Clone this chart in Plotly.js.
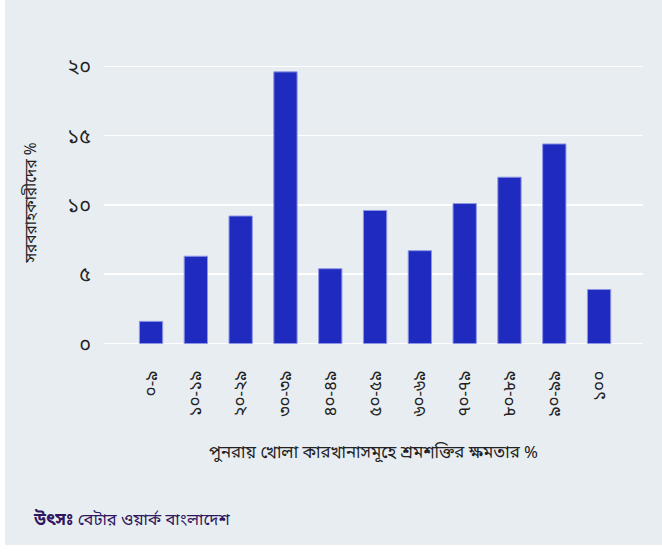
<!DOCTYPE html>
<html>
<head>
<meta charset="utf-8">
<script src="https://cdn.plot.ly/plotly-3.0.1.min.js"></script>
<style>
html,body{margin:0;padding:0;background:#ffffff;}
#chart{position:absolute;left:5px;top:0;width:657px;height:545px;}
</style>
</head>
<body>
<div id="chart"></div>
<script>
const categories = ["০-৯","১০-১৯","২০-২৯","৩০-৩৯","৪০-৪৯","৫০-৫৯","৬০-৬৯","৭০-৭৯","৮০-৮৯","৯০-৯৯","১০০"];
const values = [1.6, 6.3, 9.2, 19.6, 5.4, 9.6, 6.7, 10.1, 12.0, 14.4, 3.9];
const yTickVals = [0, 5, 10, 15, 20];
const yTickText = ["০","৫","১০","১৫","২০"];

const bg = "#e8edf2";
const fontFam = "'Noto Sans Bengali','Noto Sans', sans-serif";

Plotly.newPlot("chart", [{
  type: "bar",
  x: categories,
  y: values,
  width: 0.52,
  marker: {color: "#1f2bbe", line: {color: "#8f96e6", width: 1}},
  hoverinfo: "none"
}], {
  width: 657, height: 545,
  paper_bgcolor: bg, plot_bgcolor: bg,
  margin: {l: 99, r: 19, t: 58, b: 197.5},
  font: {family: fontFam, color: "#222"},
  showlegend: false,
  xaxis: {
    type: "category",
    range: [-1.05, 10.98],
    tickangle: -90,
    tickfont: {size: 17, color: "#222"},
    ticks: "outside", ticklen: 16, tickcolor: "rgba(0,0,0,0)",
    showgrid: false, zeroline: false,
    title: {text: "পুনরায় খোলা কারখানাসমূহে শ্রমশক্তির ক্ষমতার %", font: {size: 16.8, color: "#222"}, standoff: 30}
  },
  yaxis: {
    range: [-0.25, 20.6],
    tickvals: yTickVals, ticktext: yTickText,
    tickfont: {size: 20, color: "#222"},
    ticks: "outside", ticklen: 8, tickcolor: "rgba(0,0,0,0)",
    gridcolor: "#ffffff", gridwidth: 1.5, zeroline: false,
    title: {text: "সরবরাহকারীদের %", font: {size: 15.5, color: "#222"}, standoff: 26}
  },
  annotations: [{
    xref: "paper", yref: "paper", x: -0.136, y: -0.6, xanchor: "left", yanchor: "middle",
    showarrow: false, align: "left",
    text: "<b>উৎসঃ</b> বেটার ওয়ার্ক বাংলাদেশ",
    font: {size: 16.5, color: "#2e1760", family: fontFam}
  }]
}, {displayModeBar: false, staticPlot: true});
</script>
</body>
</html>
